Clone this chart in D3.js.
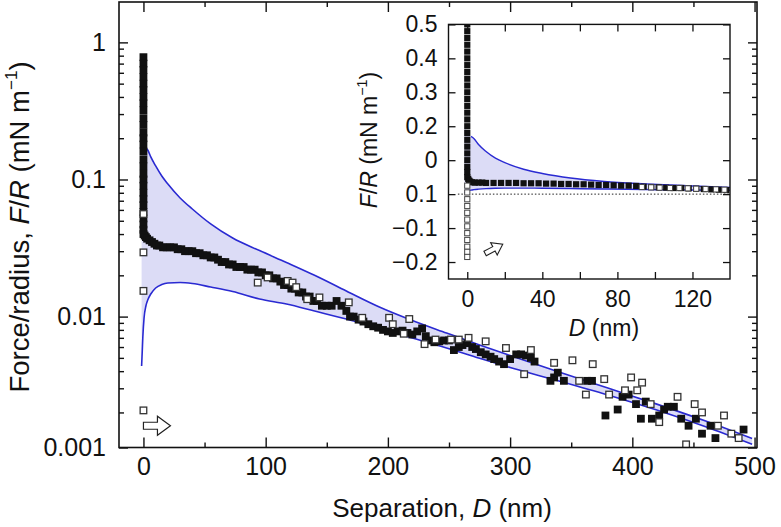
<!DOCTYPE html>
<html><head><meta charset="utf-8">
<script src="https://cdn.jsdelivr.net/npm/d3@7"></script>
<style>
body{margin:0;background:#fff}
svg{display:block}
text{font-family:"Liberation Sans",Arial,Helvetica,sans-serif;fill:#111}
</style>
</head><body>
<svg id="chart" width="781" height="527"></svg>
<script>
// ---------------- DATA ----------------
// Main plot: filled squares (approach), D in nm, F/R in mN/m
const filledD = [0,0,0,0,0,0,0,0,0,0,0,0,0,0,0,0,0,0,0,0,0,0,0,0,0,0,0,0,
  1,2,3,5,7,9,11,13,16,19,22,25,28,31,34,37,40,43,46,49,52,55,58,61,64,67,70,73,76,79,82,85,88,91,94,97,
  100,103,106,109,112,115,118,121,124,127,130,133,136,139,142,146,150,154,158,162,166,169,172,176,180,184,188,192,196,
  200,204,208,212,216,220,224,228,231,234,238,242,246,250,254,258,261,265,269,272,276,280,284,287,291,295,
  300,305,309,313,317,320,333,336,339,344,363,367,378,388,392,397,403,407,411,416,422,426,429,434,440,446,452,457,464,468,491];
const filledF = [0.78,0.70,0.63,0.56,0.50,0.45,0.40,0.36,0.32,0.28,0.25,0.22,0.20,0.18,0.16,0.14,0.125,0.11,0.10,0.09,0.08,0.072,0.065,0.058,0.052,0.047,0.043,0.040,
  0.039,0.038,0.037,0.036,0.035,0.034,0.033,0.033,0.032,0.032,0.032,0.032,0.031,0.031,0.030,0.030,0.030,0.029,0.029,0.028,0.028,0.027,0.027,0.026,0.025,0.025,0.024,0.024,0.023,0.023,0.023,0.022,0.022,0.022,0.021,0.021,
  0.020,0.020,0.019,0.019,0.018,0.017,0.017,0.016,0.016,0.015,0.015,0.014,0.014,0.013,0.013,0.012,0.012,0.012,0.013,0.012,0.011,0.010,0.010,0.0095,0.0092,0.0088,0.0085,0.0083,0.0080,
  0.0078,0.0076,0.0078,0.0079,0.0076,0.0074,0.0078,0.0082,0.0072,0.0067,0.0065,0.0066,0.0067,0.0067,0.0057,0.0060,0.0062,0.0064,0.0060,0.0058,0.0055,0.0053,0.0051,0.0049,0.0047,0.0045,
  0.0049,0.0053,0.0053,0.0052,0.0050,0.0047,0.0034,0.0036,0.0039,0.0034,0.0034,0.0034,0.0019,0.0021,0.0026,0.0027,0.0023,0.0018,0.0024,0.0018,0.0019,0.0021,0.0022,0.0022,0.0018,0.0016,0.0018,0.0014,0.0016,0.0013,0.0015];

// Main plot: open squares (retraction)
const openD = [0,0,0,0,93.5,101.6,118,122,125,134,144,168,179,201,204,213,217.5,230,239,251.6,258,266,280,296.6,311.5,317,336,351,356.5,362,367.6,377,381,394,399,404,408,415,422,437,444,451,457,470,475,481,487];
const openF = [0.056,0.0294,0.0154,0.00207,0.0177,0.0193,0.0182,0.0177,0.0164,0.0134,0.0138,0.0127,0.0098,0.0098,0.0088,0.0075,0.0096,0.0063,0.0068,0.0068,0.0068,0.0070,0.0066,0.0059,0.0038,0.0057,0.0046,0.0048,0.0034,0.0027,0.0045,0.0035,0.0027,0.0029,0.0036,0.0029,0.0033,0.0023,0.0017,0.0026,0.00117,0.0023,0.0020,0.0016,0.0019,0.0014,0.0013];

// Theoretical band (upper and lower bounds)
const bandD     = [-1.5,-1,-0.5,0.5,2,3.5,6,10,15,20,30,40,55,73,95,117,140,166,193,220,248,275,300,340,380,420,460,498];
const bandUpper = [0.20,0.195,0.19,0.18,0.17,0.164,0.146,0.1255,0.106,0.0927,0.0733,0.0609,0.0474,0.0374,0.0303,0.0248,0.0200,0.01537,0.01175,0.00937,0.00759,0.00621,0.00520,0.00394,0.00301,0.00230,0.00173,0.00129];
const bandLower = [0.00436,0.00552,0.00710,0.00977,0.01195,0.01321,0.01462,0.01617,0.01714,0.01758,0.01773,0.01744,0.01644,0.01524,0.01344,0.01235,0.01098,0.00960,0.00819,0.00698,0.00590,0.00496,0.00425,0.00339,0.00268,0.00208,0.00157,0.00117];

// Inset: filled squares (linear scale)
const insetFilledD = [0,0,0,0,0,0,0,0,0,0,0,0,0,0,0,0,0,0,0,0,0,0,0,0,
  0.5,1,1.5,2.5,4,6,8,10,14,18,22,26,30,34,38,42,46,50,54,58,62,66,70,74,78,82,86,90,94,98,102,106,110,114,118,122,126,130,134,138];
const insetFilledF = [0.50,0.48,0.46,0.44,0.42,0.40,0.38,0.36,0.34,0.32,0.30,0.28,0.26,0.24,0.22,0.20,0.18,0.16,0.14,0.12,0.10,0.08,0.065,0.05,
  0.045,0.040,0.037,0.035,0.034,0.034,0.034,0.033,0.033,0.033,0.033,0.033,0.032,0.032,0.032,0.031,0.031,0.030,0.030,0.029,0.029,0.028,0.027,0.027,0.026,0.025,0.025,0.024,0.022,0.021,0.020,0.019,0.018,0.018,0.017,0.016,0.015,0.014,0.013,0.012];
// Inset: open squares
const insetOpenD = [0,0,0,0,0,0,0,0,0,0,0,0,93,98,102.5,108,113,117.5,122,127,132.5,137];
const insetOpenF = [0.025,0.005,-0.015,-0.035,-0.055,-0.075,-0.095,-0.115,-0.135,-0.155,-0.17,-0.185,0.021,0.020,0.019,0.018,0.018,0.017,0.016,0.015,0.014,0.013];

// Ticks and labels
const mainXTicks = [0,100,200,300,400,500];
const mainXMinor = [50,150,250,350,450];
const mainYTicks = [1,0.1,0.01,0.001];
const mainYLabels = ["1","0.1","0.01","0.001"];
const mainYMinor = [0.002,0.003,0.004,0.005,0.006,0.007,0.008,0.009,0.02,0.03,0.04,0.05,0.06,0.07,0.08,0.09,0.2,0.3,0.4,0.5,0.6,0.7,0.8,0.9];
const insetXTicks = [0,40,80,120];
const insetXMinor = [20,60,100];
const insetYTicks = [0.5,0.4,0.3,0.2,0.1,0,-0.1,-0.2];
const insetYLabels = ["0.5","0.4","0.3","0.2","0","0.1","\u22120.1","\u22120.2"];

// ---------------- DRAW ----------------
const svg = d3.select("#chart");
svg.append("rect").attr("width",781).attr("height",527).attr("fill","#fff");

const BLUE = "#2a2ad2", FILL = "#dcdcf6";
const FS = 25, IFS = 23;

// main scales
const x = d3.scaleLinear().domain([-20, 502]).range([119, 757]);
const y = d3.scaleLog().domain([0.00111, 1.97]).range([447.5, 2]).clamp(true);
const [L,R] = x.range(), [B,T] = y.range();

svg.append("defs").append("clipPath").attr("id","mclip")
  .append("rect").attr("x",L).attr("y",T).attr("width",R-L).attr("height",B-T);
const gm = svg.append("g").attr("clip-path","url(#mclip)");

const band = bandD.map((d,i)=>({d, u:bandUpper[i], l:bandLower[i]}));
gm.append("path").datum(band).attr("fill",FILL)
  .attr("d", d3.area().curve(d3.curveMonotoneX).x(p=>x(p.d)).y0(p=>y(p.l)).y1(p=>y(p.u)));
gm.append("path").datum(band.filter(p=>p.d>=2)).attr("fill","none").attr("stroke",BLUE).attr("stroke-width",1.6)
  .attr("d", d3.line().curve(d3.curveMonotoneX).x(p=>x(p.d)).y(p=>y(p.u)));
gm.append("path").datum(band).attr("fill","none").attr("stroke",BLUE).attr("stroke-width",1.6)
  .attr("d", d3.line().curve(d3.curveMonotoneX).x(p=>x(p.d)).y(p=>y(p.l)));

const S = 7.8;
gm.selectAll("rect.f").data(filledD.map((d,i)=>[d,filledF[i]])).enter().append("rect")
  .attr("x",p=>x(p[0])-S/2).attr("y",p=>y(p[1])-S/2).attr("width",S).attr("height",S)
  .attr("fill","#111");
gm.selectAll("rect.o").data(openD.map((d,i)=>[d,openF[i]])).enter().append("rect")
  .attr("x",p=>x(p[0])-S/2+0.6).attr("y",p=>y(p[1])-S/2+0.6).attr("width",S-1.2).attr("height",S-1.2)
  .attr("fill","#fff").attr("stroke","#333").attr("stroke-width",1.3);

// main arrow (hollow, pointing right)
const ax = x(0), ay = y(0.0016);
gm.append("path").attr("fill","#fff").attr("stroke","#222").attr("stroke-width",1.2)
  .attr("d",`M${ax},${ay-3.5}h14v-6l13,9.5l-13,9.5v-6h-14z`);

// main axes (ticks inward)
function noDomain(g){ g.select(".domain").remove(); }
function tk(g){ g.selectAll("line").attr("stroke","#111").attr("stroke-width",1.4); }
svg.append("g").attr("transform",`translate(0,${B})`)
  .call(d3.axisBottom(x).tickValues(mainXTicks).tickSize(-10).tickPadding(10).tickFormat(d3.format("d")))
  .call(noDomain).call(tk).call(g=>g.selectAll("text").attr("font-size",FS).attr("font-family",null));
svg.append("g").attr("transform",`translate(0,${B})`)
  .call(d3.axisBottom(x).tickValues(mainXMinor).tickSize(-5).tickFormat(""))
  .call(noDomain).call(tk);
svg.append("g").attr("transform",`translate(0,${T})`)
  .call(d3.axisTop(x).tickValues(mainXTicks).tickSize(-10).tickFormat(""))
  .call(noDomain).call(tk);
svg.append("g").attr("transform",`translate(0,${T})`)
  .call(d3.axisTop(x).tickValues(mainXMinor).tickSize(-5).tickFormat(""))
  .call(noDomain).call(tk);
svg.append("g").attr("transform",`translate(${L},0)`)
  .call(d3.axisLeft(y).tickValues(mainYTicks).tickSize(-9).tickPadding(13).tickFormat((d,i)=>mainYLabels[i]))
  .call(noDomain).call(tk).call(g=>g.selectAll("text").attr("font-size",FS).attr("font-family",null));
svg.append("g").attr("transform",`translate(${L},0)`)
  .call(d3.axisLeft(y).tickValues(mainYMinor).tickSize(-5).tickFormat(""))
  .call(noDomain).call(tk);
svg.append("g").attr("transform",`translate(${R},0)`)
  .call(d3.axisRight(y).tickValues(mainYTicks).tickSize(-9).tickFormat(""))
  .call(noDomain).call(tk);
svg.append("g").attr("transform",`translate(${R},0)`)
  .call(d3.axisRight(y).tickValues(mainYMinor).tickSize(-5).tickFormat(""))
  .call(noDomain).call(tk);
svg.append("rect").attr("x",L).attr("y",T).attr("width",R-L).attr("height",B-T)
  .attr("fill","none").attr("stroke","#111").attr("stroke-width",1.6);

// main axis titles
const xt = svg.append("text").attr("x",442).attr("y",517).attr("text-anchor","middle").attr("font-size",26);
xt.append("tspan").text("Separation, ");
xt.append("tspan").attr("font-style","italic").text("D");
xt.append("tspan").text(" (nm)");

function yTitle(tx, ty, fs, prefix){
  const t = svg.append("text").attr("transform",`translate(${tx},${ty}) rotate(-90)`)
    .attr("text-anchor","middle").attr("font-size",fs);
  if(prefix) t.append("tspan").text(prefix);
  t.append("tspan").attr("font-style","italic").text("F");
  t.append("tspan").text("/");
  t.append("tspan").attr("font-style","italic").text("R");
  t.append("tspan").text(" (mN m");
  t.append("tspan").attr("font-size",fs*0.62).attr("dy",-fs*0.42).text("\u22121");
  t.append("tspan").attr("dy",fs*0.42).text(")");
}
yTitle(29, 227, 27.5, "Force/radius, ");

// ---------------- INSET ----------------
const ix = d3.scaleLinear().domain([-10, 140]).range([448.5, 730]);
const iy = d3.scaleLinear().domain([-0.25, 0.5]).range([279, 24.4]);
const [iL,iR] = ix.range(), [iB,iT] = iy.range();
svg.append("rect").attr("x",iL).attr("y",iT).attr("width",iR-iL).attr("height",iB-iT).attr("fill","#fff");
svg.select("defs").append("clipPath").attr("id","iclip")
  .append("rect").attr("x",iL).attr("y",iT).attr("width",iR-iL).attr("height",iB-iT);
const gi = svg.append("g").attr("clip-path","url(#iclip)");

gi.append("path").datum(band).attr("fill",FILL)
  .attr("d", d3.area().curve(d3.curveMonotoneX).x(p=>ix(p.d)).y0(p=>iy(p.l)).y1(p=>iy(p.u)));
gi.append("path").datum(band.filter(p=>p.d>=2)).attr("fill","none").attr("stroke",BLUE).attr("stroke-width",1.4)
  .attr("d", d3.line().curve(d3.curveMonotoneX).x(p=>ix(p.d)).y(p=>iy(p.u)));
gi.append("path").datum(band).attr("fill","none").attr("stroke",BLUE).attr("stroke-width",1.4)
  .attr("d", d3.line().curve(d3.curveMonotoneX).x(p=>ix(p.d)).y(p=>iy(p.l)));
gi.append("line").attr("x1",ix(-5)).attr("x2",iR).attr("y1",iy(0)).attr("y2",iy(0))
  .attr("stroke","#222").attr("stroke-width",1).attr("stroke-dasharray","1.5,2");

const IS = 6.2;
gi.selectAll("rect.f").data(insetFilledD.map((d,i)=>[d,insetFilledF[i]])).enter().append("rect")
  .attr("x",p=>ix(p[0])-IS/2).attr("y",p=>iy(p[1])-IS/2).attr("width",IS).attr("height",IS)
  .attr("fill","#111");
gi.selectAll("rect.o").data(insetOpenD.map((d,i)=>[d,insetOpenF[i]])).enter().append("rect")
  .attr("x",p=>ix(p[0])-2.6).attr("y",p=>iy(p[1])-2.6).attr("width",5.2).attr("height",5.2)
  .attr("fill","#fff").attr("stroke","#444").attr("stroke-width",1);

// inset arrow (hollow, pointing up-right)
gi.append("path").attr("fill","#fff").attr("stroke","#222").attr("stroke-width",1.1)
  .attr("transform",`translate(${ix(9.5)},${iy(-0.175)}) rotate(-28)`)
  .attr("d","M0,-2.5h10v-4.5l10,7l-10,7v-4.5h-10z");

function tickStyle(g){ g.selectAll("line").attr("stroke","#111").attr("stroke-width",1.3); }
svg.append("g").attr("transform",`translate(0,${iB})`)
  .call(d3.axisBottom(ix).tickValues(insetXTicks).tickSize(-7).tickPadding(12).tickFormat(d3.format("d")))
  .call(noDomain).call(tickStyle).call(g=>g.selectAll("text").attr("font-size",IFS).attr("font-family",null));
svg.append("g").attr("transform",`translate(0,${iB})`)
  .call(d3.axisBottom(ix).tickValues(insetXMinor).tickSize(-7).tickFormat(""))
  .call(noDomain).call(tickStyle);
svg.append("g").attr("transform",`translate(0,${iT})`)
  .call(d3.axisTop(ix).tickValues(insetXTicks.concat(insetXMinor)).tickSize(-7).tickFormat(""))
  .call(noDomain).call(tickStyle);
svg.append("g").attr("transform",`translate(${iL},0)`)
  .call(d3.axisLeft(iy).tickValues(insetYTicks).tickSize(-7).tickPadding(11).tickFormat((d,i)=>insetYLabels[i]))
  .call(noDomain).call(tickStyle).call(g=>g.selectAll("text").attr("font-size",IFS).attr("font-family",null));
svg.append("g").attr("transform",`translate(${iR},0)`)
  .call(d3.axisRight(iy).tickValues(insetYTicks).tickSize(-7).tickFormat(""))
  .call(noDomain).call(tickStyle);
svg.append("rect").attr("x",iL).attr("y",iT).attr("width",iR-iL).attr("height",iB-iT)
  .attr("fill","none").attr("stroke","#111").attr("stroke-width",1.4);

const ixt = svg.append("text").attr("x",604).attr("y",336).attr("text-anchor","middle").attr("font-size",IFS);
ixt.append("tspan").attr("font-style","italic").text("D");
ixt.append("tspan").text(" (nm)");
yTitle(377, 140, IFS, null);
</script>
</body></html>
